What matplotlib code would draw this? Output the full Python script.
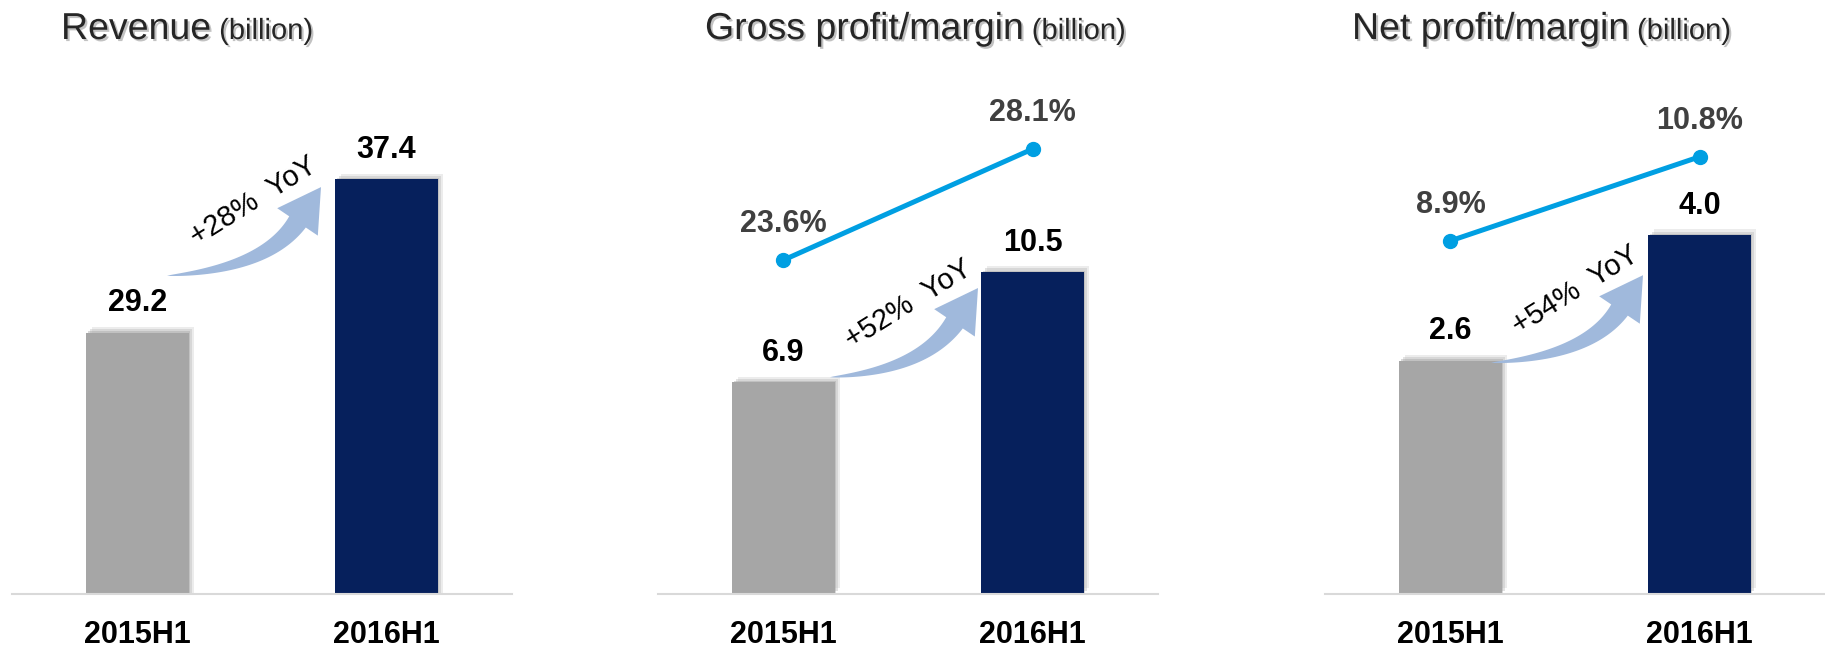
import matplotlib
matplotlib.use('Agg')
import numpy as np
from matplotlib import pyplot as plt
from matplotlib import patheffects as pe
from matplotlib.patches import Polygon
from matplotlib.transforms import Affine2D

plt.rcParams['font.family'] = ['Liberation Sans', 'DejaVu Sans']

# data
periods = ['2015H1', '2016H1']
titles = ['Revenue', 'Gross profit/margin', 'Net profit/margin']
revenue = [29.2, 37.4]
gross_profit = [6.9, 10.5]
net_profit = [2.6, 4.0]
gross_margin = [23.6, 28.1]
net_margin = [8.9, 10.8]
yoy_labels = ['+28%  YoY', '+52%  YoY', '+54%  YoY']

GRAY = '#a6a6a6'
NAVY = '#06205c'
LINE = '#009fe2'
ARROW = '#a0b9dc'

W, H = 1825, 647
fig = plt.figure(figsize=(W / 100, H / 100), dpi=100)
fig.patch.set_facecolor('white')
# transform for pixel coords measured from the top-left corner
px_trans = Affine2D().scale(1 / W, -1 / H).translate(0, 1) + fig.transFigure

# layout (pixels) for each panel
panel_left = [12, 658, 1325]
ax_bottom, ax_top = 594, 60
ax_w, ax_h = 500, ax_bottom - ax_top
bar_limits = [(15.2, 43.8), (0, 17.41), (0, 5.95)]
margin_limits = [None, (10.06, 31.71), (0.91, 12.99)]
arrow_tails = [(0.310, 0.596), (0.344, 0.406), (0.332, 0.433)]
arrow_tips = [(0.618, 0.762), (0.640, 0.573), (0.636, 0.597)]
yoy_pos = [(0.484, 0.735), (0.502, 0.542), (0.502, 0.569)]
title_x = [61, 705, 1352]

bar_values = [revenue, gross_profit, net_profit]
margins = [None, gross_margin, net_margin]


def curved_arrow(tail, tip, head_angle=56, tail_angle=4, head_len=42, head_w=49, body_w=20):
    """tapered curved arrow, points in pixels (y down)"""
    p0 = np.array(tail, float)
    t = np.array(tip, float)
    d1 = np.array([np.cos(np.radians(head_angle)), -np.sin(np.radians(head_angle))])
    d0 = np.array([np.cos(np.radians(tail_angle)), -np.sin(np.radians(tail_angle))])
    b = t - head_len * d1
    # control point where tail and head tangents cross
    s, _ = np.linalg.solve(np.column_stack([d0, d1]), b - p0)
    c = p0 + s * d0
    u = np.linspace(0, 1, 60)[:, None]
    pts = (1 - u) ** 2 * p0 + 2 * (1 - u) * u * c + u ** 2 * b
    tang = 2 * (1 - u) * (c - p0) + 2 * u * (b - c)
    tang /= np.linalg.norm(tang, axis=1)[:, None]
    nrm = np.column_stack([tang[:, 1], -tang[:, 0]])
    half = body_w / 2 * u ** 0.75
    left = pts + nrm * half
    right = pts - nrm * half
    n1 = np.array([d1[1], -d1[0]])
    head = [b + n1 * head_w / 2, t, b - n1 * head_w / 2]
    return np.vstack([left, head, right[::-1]])


bar_shadow = [pe.SimplePatchShadow(offset=(4, 4), shadow_rgbFace='#d0d0d0', alpha=0.4),
              pe.SimplePatchShadow(offset=(2.5, 2.5), shadow_rgbFace='#b8b8b8', alpha=0.4),
              pe.SimplePatchShadow(offset=(1, 1), shadow_rgbFace='#a0a0a0', alpha=0.4),
              pe.Normal()]

for i in range(3):
    ax = fig.add_axes([panel_left[i] / W, 1 - ax_bottom / H, ax_w / W, ax_h / H])
    ax.set_facecolor('none')
    bars = ax.bar([0, 1], bar_values[i], width=0.41, color=[GRAY, NAVY], zorder=2)
    for b in bars:
        b.set_path_effects(bar_shadow)
    ax.set_xlim(-0.504, 1.504)
    ax.set_ylim(*bar_limits[i])
    for s in ['top', 'left', 'right']:
        ax.spines[s].set_visible(False)
    ax.spines['bottom'].set_color('#d9d9d9')
    ax.spines['bottom'].set_linewidth(1.5)
    ax.set_yticks([])
    ax.set_xticks([0, 1])
    ax.set_xticklabels(periods, fontsize=22, fontweight='bold', color='black')
    ax.tick_params(axis='x', length=0, pad=19)

    for x, v in zip([0, 1], bar_values[i]):
        ax.annotate('{:.1f}'.format(v), (x, v), xytext=(0, 21), textcoords='offset points',
                    ha='center', va='center', fontsize=22, fontweight='bold', color='black')

    if margins[i] is not None:
        ax2 = ax.twinx()
        ax2.set_ylim(*margin_limits[i])
        ax2.axis('off')
        ax2.plot([0, 1], margins[i], color=LINE, lw=3.6, marker='o', markersize=10,
                 solid_capstyle='round', zorder=3)
        for x, m in zip([0, 1], margins[i]):
            ax2.annotate('{:.1f}%'.format(m), (x, m), xytext=(0, 26), textcoords='offset points',
                         ha='center', va='center', fontsize=22, fontweight='bold', color='#404040')

    tail = (panel_left[i] + arrow_tails[i][0] * ax_w, ax_bottom - arrow_tails[i][1] * ax_h)
    tip = (panel_left[i] + arrow_tips[i][0] * ax_w, ax_bottom - arrow_tips[i][1] * ax_h)
    fig.patches.append(Polygon(curved_arrow(tail, tip), closed=True, transform=px_trans,
                               facecolor=ARROW, edgecolor='none', zorder=4))
    ax.text(yoy_pos[i][0], yoy_pos[i][1], yoy_labels[i], transform=ax.transAxes,
            rotation=32, rotation_mode='anchor', ha='center', va='center',
            fontsize=21, color='black', zorder=5)

# titles with soft shadow
shadow = [pe.withSimplePatchShadow(offset=(1.5, -1.5), shadow_rgbFace='#9a9a9a', alpha=0.6)]
fig.canvas.draw()
renderer = fig.canvas.get_renderer()
for i in range(3):
    t = fig.text(title_x[i] / W, 1 - 39 / H, titles[i], fontsize=27, color='#262626',
                 va='baseline', ha='left', path_effects=shadow)
    ext = t.get_window_extent(renderer)
    fig.text((ext.x1 + 8) / W, 1 - 39 / H, '(billion)', fontsize=21, color='#262626',
             va='baseline', ha='left', path_effects=shadow)

fig.savefig('out.png', dpi=100, facecolor='white')
